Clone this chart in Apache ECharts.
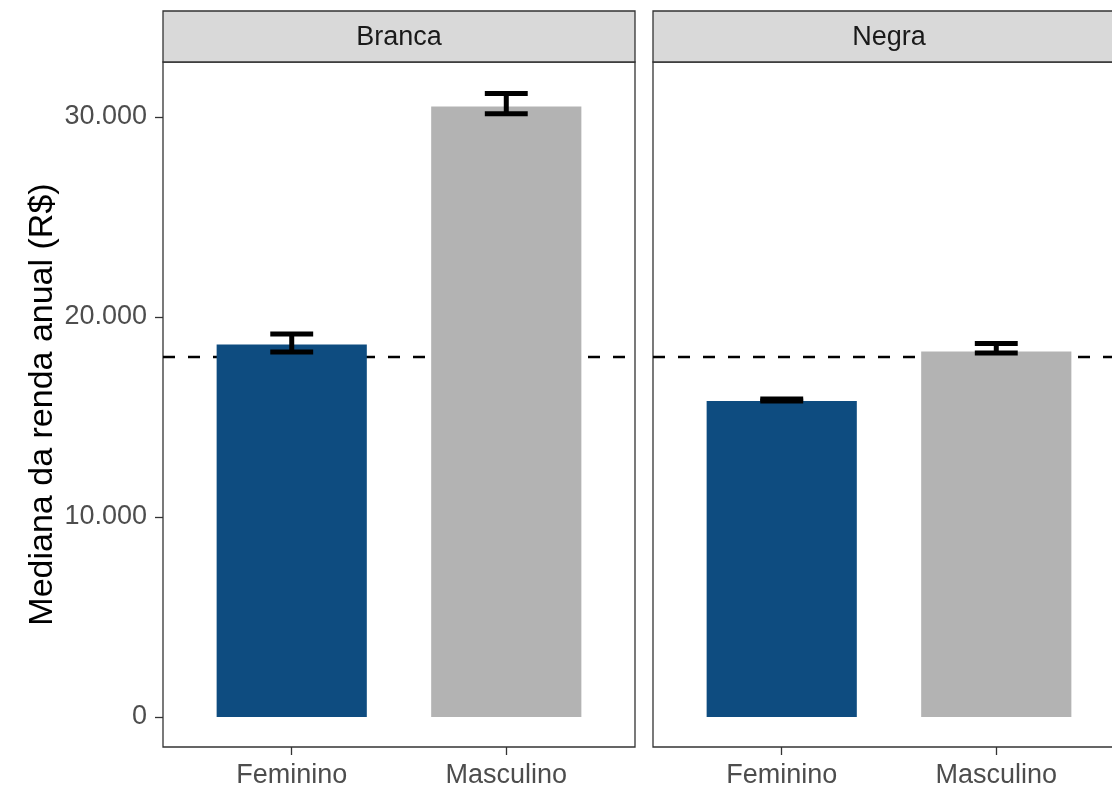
<!DOCTYPE html>
<html>
<head>
<meta charset="utf-8">
<script src="https://cdn.jsdelivr.net/npm/echarts@6/dist/echarts.min.js"></script>
<style>html,body{margin:0;padding:0;background:#fff;}#c{width:1112px;height:788px;}</style>
</head>
<body>
<div id="c"></div>
<script>
// ---- data ----
var categories = ['Feminino', 'Masculino'];
var panels = ['Branca', 'Negra'];
var medianBranca = [18620, 30520];
var lowerBranca = [18250, 30160];
var upperBranca = [19150, 31170];
var medianNegra = [15800, 18270];
var lowerNegra = [15800, 18200];
var upperNegra = [15900, 18680];
var referenceLine = 18000;
var yTicks = [0, 10000, 20000, 30000];
var barColors = ['#0e4c80', '#b3b3b3'];

var chart = echarts.init(document.getElementById('c'), null, {renderer: 'canvas'});
var FONT = 'Liberation Sans';

function fmt(v) { return String(v).replace(/\B(?=(\d{3})+(?!\d))/g, '.'); }

function barData(med, lo, hi) {
  return categories.map(function (c, i) { return [i + 1, med[i], lo[i], hi[i], i]; });
}

function renderBar(params, api) {
  var x = api.value(0), y = api.value(1);
  var p1 = api.coord([x - 0.35, y]);
  var p2 = api.coord([x + 0.35, 0]);
  return {
    type: 'rect',
    shape: {x: p1[0], y: p1[1], width: p2[0] - p1[0], height: p2[1] - p1[1]},
    style: {fill: barColors[api.value(4)]}
  };
}
function renderErr(params, api) {
  var x = api.value(0), lo = api.value(2), hi = api.value(3);
  var a = api.coord([x - 0.1, lo]), b = api.coord([x + 0.1, lo]);
  var c = api.coord([x - 0.1, hi]), d = api.coord([x + 0.1, hi]);
  var st = {stroke: '#000', lineWidth: 5, lineCap: 'butt'};
  return {
    type: 'group',
    children: [
      {type: 'line', shape: {x1: a[0], y1: a[1], x2: b[0], y2: b[1]}, style: st},
      {type: 'line', shape: {x1: c[0], y1: c[1], x2: d[0], y2: d[1]}, style: st},
      {type: 'line', shape: {x1: (a[0] + b[0]) / 2, y1: a[1], x2: (c[0] + d[0]) / 2, y2: c[1]}, style: st}
    ]
  };
}

var grids = [
  {left: 163, width: 472, top: 62, height: 685},
  {left: 653, width: 472, top: 62, height: 685}
];
grids.forEach(function (g) {
  g.show = true; g.borderColor = '#333333'; g.borderWidth = 1.3; g.backgroundColor = 'transparent';
  g.containLabel = false; g.outerBoundsMode = 'none';
});

function xAxis(i) {
  return {
    type: 'value', gridIndex: i, min: 0.4, max: 2.6, position: 'bottom',
    axisLine: {show: false, onZero: false},
    splitLine: {show: false},
    axisTick: {show: true, customValues: [1, 2], length: 8, lineStyle: {color: '#333333', width: 1.3}},
    axisLabel: {show: true, customValues: [1, 2], formatter: function (v) { return categories[Math.round(v) - 1] || ''; },
      color: '#4d4d4d', fontFamily: FONT, fontSize: 27, margin: 15}
  };
}
function yAxis(i) {
  var ax = {
    type: 'value', gridIndex: i, min: -1500, max: 32750, position: 'left',
    axisLine: {show: false, onZero: false},
    splitLine: {show: false},
    axisTick: {show: i === 0, customValues: yTicks, length: 8, lineStyle: {color: '#333333', width: 1.3}},
    axisLabel: {show: i === 0, customValues: yTicks, formatter: function (v) { return fmt(v); },
      color: '#4d4d4d', fontFamily: FONT, fontSize: 27, margin: 16}
  };
  if (i === 0) {
    ax.name = 'Mediana da renda anual (R$)';
    ax.nameLocation = 'middle';
    ax.nameGap = 103;
    ax.nameTextStyle = {color: '#000', fontFamily: FONT, fontSize: 34};
  }
  return ax;
}

var series = [];
[[medianBranca, lowerBranca, upperBranca], [medianNegra, lowerNegra, upperNegra]].forEach(function (d, i) {
  series.push({type: 'line', xAxisIndex: i, yAxisIndex: i, data: [[0.4, referenceLine], [2.6, referenceLine]],
    symbol: 'none', silent: true, z: 1, lineStyle: {color: '#000', width: 2.5, type: [12, 13]}});
  series.push({type: 'custom', xAxisIndex: i, yAxisIndex: i, data: barData(d[0], d[1], d[2]), renderItem: renderBar, z: 2});
  series.push({type: 'custom', xAxisIndex: i, yAxisIndex: i, data: barData(d[0], d[1], d[2]), renderItem: renderErr, z: 3});
});

var graphics = [];
grids.forEach(function (g, i) {
  graphics.push({type: 'rect', x: g.left, y: 11, shape: {x: 0, y: 0, width: g.width, height: 51},
    style: {fill: '#d9d9d9', stroke: '#333333', lineWidth: 1.3}, z: 10});
  graphics.push({type: 'text', x: g.left + g.width / 2, y: 38, style: {text: panels[i], fill: '#1a1a1a',
    font: '27px "' + FONT + '"', textAlign: 'center', textVerticalAlign: 'middle'}, z: 11});
});

chart.setOption({
  animation: false,
  backgroundColor: '#ffffff',
  grid: grids,
  xAxis: [xAxis(0), xAxis(1)],
  yAxis: [yAxis(0), yAxis(1)],
  series: series,
  graphic: graphics
});
</script>
</body>
</html>
